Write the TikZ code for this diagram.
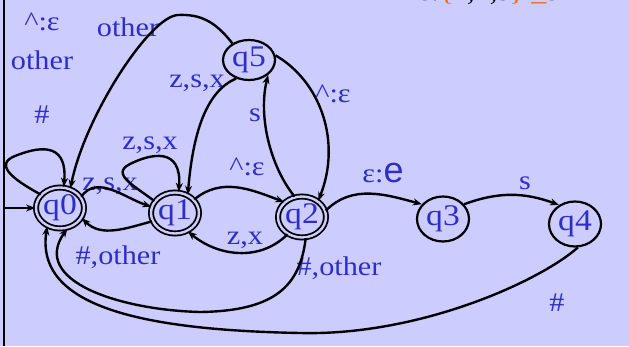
\documentclass[tikz,border=0pt]{standalone}
\usepackage{fontspec}
\setmainfont{Liberation Serif}[FakeStretch=1.12]
\newfontfamily\sansfont{Liberation Sans}
\usepackage{tikz}
\usetikzlibrary{arrows.meta, shapes.geometric}
\definecolor{bgcol}{RGB}{204,204,255}
\definecolor{txtcol}{RGB}{46,46,196}
\definecolor{hdrcol}{RGB}{235,110,10}

\begin{document}
\begin{tikzpicture}[x=1pt, y=1pt,
  state/.style={draw, ellipse, line width=2.2pt, minimum width=52pt, minimum height=45pt, inner sep=0pt, text=txtcol, font=\fontsize{30}{30}\selectfont},
  acc/.style={state, double=bgcol, double distance=2.4pt, line width=1.8pt, minimum width=48pt, minimum height=41pt},
  lbl/.style={text=txtcol, font=\fontsize{27}{28}\selectfont, inner sep=0pt},
  arr/.style={-{Stealth[length=9pt, width=7pt]}, line width=2.4pt}
]

% ----- Fond et bord -----
\fill[bgcol] (0,0) rectangle (629,346);
\useasboundingbox (0,0) rectangle (629,346);
\begin{scope}
\clip (0,0) rectangle (629,346);
\node[anchor=base west, font=\fontsize{27}{28}\selectfont, inner sep=0pt] (header) at (418,345)
  {ε:\textcolor{hdrcol}{\{}z,x,s\textcolor{hdrcol}{\}}\ \textcolor{hdrcol}{\_}sh};
\end{scope}
\draw[line width=2.5pt] (4,0) -- (4,346);

% ----- Etats -----
\node[acc] (q0) at (60,138) {q0};
\node[acc] (q1) at (175,133) {q1};
\node[acc] (q2) at (302,129) {q2};
\node[state] (q3) at (443,127) {q3};
\node[state] (q4) at (575,122) {q4};
\node[state, minimum height=40pt] (q5) at (249,286) {q5};
\coordinate (start) at (4,138);

% ----- Etiquettes -----
\node[lbl] (loopCaret) at (42,324) {\textasciicircum:ε};
\node[lbl] (loopOther) at (42,286) {other};
\node[lbl] (loopHash)  at (42,231) {\#};
\node[lbl] (lq5q0) at (128,319) {other};
\node[lbl] (lq1loop) at (150,201) {z,s,x};
\node[lbl] (lq0q1) at (110,160) {z,s,x};
\node[lbl] (lq1q0) at (118,89) {\#,other};
\node[lbl] (lq1q2) at (247,179) {\textasciicircum:ε};
\node[lbl] (lq2q1) at (245,106) {z,x};
\node[lbl] (lq5q1) at (197,263) {z,s,x};
\node[lbl] (lq2q5) at (255,231) {s};
\node[lbl] (lq5q2) at (333,252) {\textasciicircum:ε};
\node[lbl] (lq2q3) at (383,173) {ε:{\sansfont\fontsize{36}{36}\selectfont e}};
\node[lbl] (lq3q4) at (525,163) {s};
\node[lbl] (lq4q0) at (557,43) {\#};
\node[lbl] (lq2q0) at (339,78) {\#,other};

% ----- Transitions -----
\draw[arr] (start) -- (q0);
\draw[arr] (q0.145) .. controls (10,168) and (-5,182) .. (15,190) .. controls (35,198) and (68,207) .. (q0.80);
\draw[arr] (q5.135) .. controls (215,325) and (200,332) .. (178,331) .. controls (150,330) and (85,230) .. (q0.62);
\draw[arr] (q1.150) .. controls (135,160) and (110,172) .. (130,182) .. controls (150,192) and (182,200) .. (q1.80);
\draw[arr] (q0.28) to[out=55, in=162] (q1.165);
\draw[arr] (q1.200) to[out=195, in=-45] (q0.335);
\draw[arr] (q1.35) to[out=40, in=159] (q2.140);
\draw[arr] (q2.230) to[out=225, in=-40] (q1.305);
\draw[arr] (q5.235) .. controls (207,255) and (193,215) .. (q1.55);
\draw[arr] (q2.110) .. controls (270,180) and (258,230) .. (q5.-38);
\draw[arr] (q5.10) .. controls (320,265) and (342,205) .. (q2.45);
\draw[arr] (q2.15) to[out=45, in=165] (q3.145);
\draw[arr] (q3.35) to[out=20, in=160] (q4.130);
\draw[arr] (q4.-83) .. controls (540,65) and (420,10) .. (300,13) .. controls (140,16) and (35,40) .. (q0.235);
\draw[arr] (q2.-80) .. controls (300,60) and (275,35) .. (200,34) .. controls (120,36) and (30,65) .. (q0.-70);

\end{tikzpicture}
\end{document}
